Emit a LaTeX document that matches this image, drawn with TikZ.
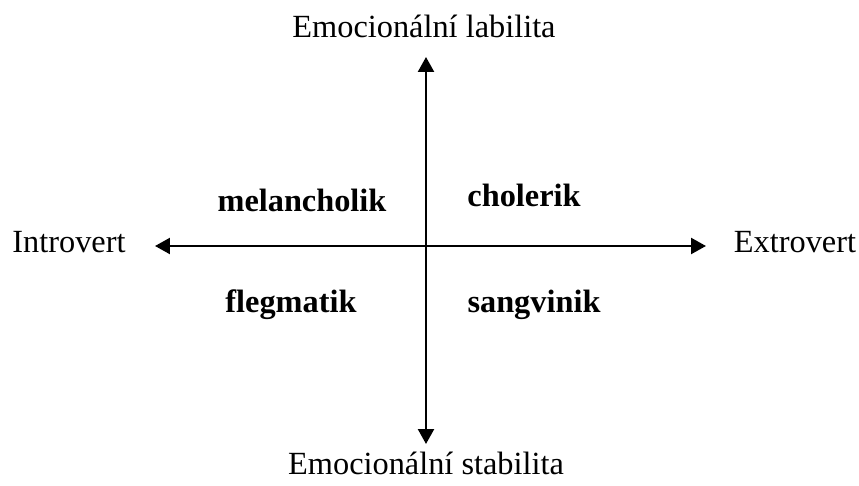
\documentclass[tikz,border=0pt]{standalone}
\usepackage{fontspec}
\setmainfont{Liberation Serif}
\usetikzlibrary{arrows.meta}
\tikzset{
  axis/.style={line width=1.3pt,{Triangle[length=3mm,width=3.2mm]}-{Triangle[length=3mm,width=3.2mm]}},
  axislabel/.style={anchor=base,font=\fontsize{18.4}{22}\selectfont},
  temper/.style={anchor=base,font=\fontsize{18.4}{22}\selectfont\bfseries}
}
\begin{document}
\begin{tikzpicture}[x=0.02cm,y=-0.02cm]
    \useasboundingbox (0,0) rectangle (859,486);
    % axes
    \coordinate (top) at (426,57);
    \coordinate (bottom) at (426,444);
    \coordinate (left) at (155,246);
    \coordinate (right) at (706,246);
    \draw[axis] (bottom) -- (top);
    \draw[axis] (left) -- (right);
    % axis labels
    \node[axislabel] (lab) at (424,38) {Emocionální labilita};
    \node[axislabel] (stab) at (426,474) {Emocionální stabilita};
    \node[axislabel] (intro) at (69,253) {Introvert};
    \node[axislabel] (extro) at (795,253) {Extrovert};
    % quadrants
    \node[temper] (mel) at (302,212) {melancholik};
    \node[temper] (chol) at (524,207) {cholerik};
    \node[temper] (fleg) at (291,313) {flegmatik};
    \node[temper] (sang) at (534,313) {sangvinik};
\end{tikzpicture}
\end{document}
